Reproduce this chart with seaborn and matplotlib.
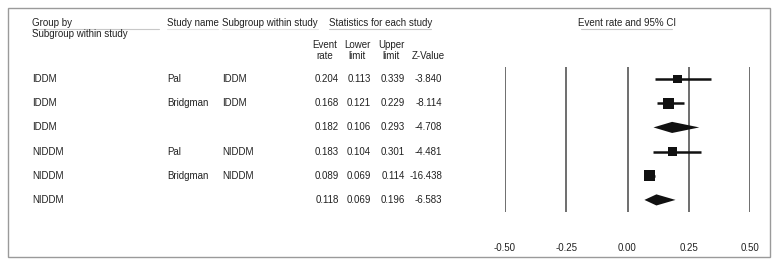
import matplotlib
matplotlib.use('Agg')
import matplotlib.pyplot as plt
import numpy as np
import pandas as pd
import seaborn as sns

sns.set_style('white')
plt.rcParams['font.family'] = ['Liberation Sans', 'DejaVu Sans']

# ===== Data =====
group_by = ['IDDM', 'IDDM', 'IDDM', 'NIDDM', 'NIDDM', 'NIDDM']
study_name = ['Pal', 'Bridgman', '', 'Pal', 'Bridgman', '']
subgroup = ['IDDM', 'IDDM', '', 'NIDDM', 'NIDDM', '']
event_rate = [0.204, 0.168, 0.182, 0.183, 0.089, 0.118]
lower_limit = [0.113, 0.121, 0.106, 0.104, 0.069, 0.069]
upper_limit = [0.339, 0.229, 0.293, 0.301, 0.114, 0.196]
z_value = [-3.840, -8.114, -4.708, -4.481, -16.438, -6.583]
is_summary = [False, False, True, False, False, True]
weight = [0.75, 1.0, 1.0, 0.75, 1.0, 1.0]
x_ticks = [-0.50, -0.25, 0.00, 0.25, 0.50]

df = pd.DataFrame({'group': group_by, 'study': study_name, 'sub': subgroup,
                   'rate': event_rate, 'lo': lower_limit, 'hi': upper_limit,
                   'z': z_value, 'summary': is_summary, 'w': weight})
df['row'] = np.arange(len(df))

W, H = 777, 266
fig = plt.figure(figsize=(W / 100, H / 100), dpi=100)

# full-figure axes in pixel coords for the table text
tab = fig.add_axes([0, 0, 1, 1])
tab.set_xlim(0, W)
tab.set_ylim(H, 0)
tab.axis('off')

fs = 7
txt = '#222222'
tab.add_patch(plt.Rectangle((7.5, 7.5), 762, 249.5, fill=False,
                            edgecolor='#9a9a9a', linewidth=1))

# header block
tab.text(32, 23, 'Group by', fontsize=fs, color=txt, va='center')
tab.plot([32, 159], [28.5, 28.5], color='#c8c8c8', lw=0.8)
tab.text(32, 34, 'Subgroup within study', fontsize=fs, color=txt, va='center')
tab.text(167, 23, 'Study name', fontsize=fs, color=txt, va='center')
tab.plot([167, 218], [28.5, 28.5], color='#e6e6e6', lw=0.8)
tab.text(222, 23, 'Subgroup within study', fontsize=fs, color=txt, va='center')
tab.plot([222, 318], [28.5, 28.5], color='#e6e6e6', lw=0.8)
tab.text(329, 23, 'Statistics for each study', fontsize=fs, color=txt, va='center')
tab.plot([329, 431], [28.5, 28.5], color='#c8c8c8', lw=0.8)
tab.text(627, 23, 'Event rate and 95% CI', fontsize=fs, color=txt,
         va='center', ha='center')
tab.plot([581, 672], [28.5, 28.5], color='#c8c8c8', lw=0.8)

col_right = [339, 371, 405, 442]
heads = [('Event', 'rate'), ('Lower', 'limit'), ('Upper', 'limit'), ('', 'Z-Value')]
for xr, (h1, h2) in zip(col_right, heads):
    tab.text(xr - 14, 45, h1, fontsize=fs, color=txt, va='center', ha='center')
    tab.text(xr - 14, 56, h2, fontsize=fs, color=txt, va='center', ha='center')

row_y0, row_dy = 79, 24.2
for _, r in df.iterrows():
    y = row_y0 + row_dy * r['row']
    tab.text(32, y, r['group'], fontsize=fs, color=txt, va='center')
    tab.text(167, y, r['study'], fontsize=fs, color=txt, va='center')
    tab.text(222, y, r['sub'], fontsize=fs, color=txt, va='center')
    vals = [f"{r['rate']:.3f}", f"{r['lo']:.3f}", f"{r['hi']:.3f}", f"{r['z']:.3f}"]
    for xr, v in zip(col_right, vals):
        tab.text(xr, y, v, fontsize=fs, color=txt, va='center', ha='right')

# ===== Forest plot axes =====
x0, x1 = 505, 750
top, bot = 67, 212
ax = fig.add_axes([x0 / W, 1 - bot / H, (x1 - x0) / W, (bot - top) / H])
ax.set_xlim(-0.5, 0.5)
ax.set_ylim(len(df) - 0.5, -0.5)
for s in ax.spines.values():
    s.set_visible(False)
ax.patch.set_alpha(0)
for t in x_ticks:
    ax.axvline(t, color='#555555', lw=1.2, zorder=1)

studies = df[~df['summary']]
summ = df[df['summary']]
ax.hlines(studies['row'], studies['lo'], studies['hi'], color='#111111', lw=1.8, zorder=2)
sns.scatterplot(data=studies, x='rate', y='row', size='w', sizes=(40, 66),
                marker='s', color='#111111', edgecolor='#111111', linewidth=0,
                legend=False, ax=ax, zorder=3)
dh = 0.23
for _, r in summ.iterrows():
    ax.fill([r['lo'], r['rate'], r['hi'], r['rate']],
            [r['row'], r['row'] - dh, r['row'], r['row'] + dh],
            color='#111111', lw=0, zorder=3)

ax.set_xticks(x_ticks)
ax.set_xticklabels([f'{t:.2f}' for t in x_ticks], fontsize=fs, color=txt)
ax.set_yticks([])
ax.tick_params(axis='x', length=0, pad=22)
ax.set_xlabel('')
ax.set_ylabel('')

fig.savefig('out.png', dpi=100)
